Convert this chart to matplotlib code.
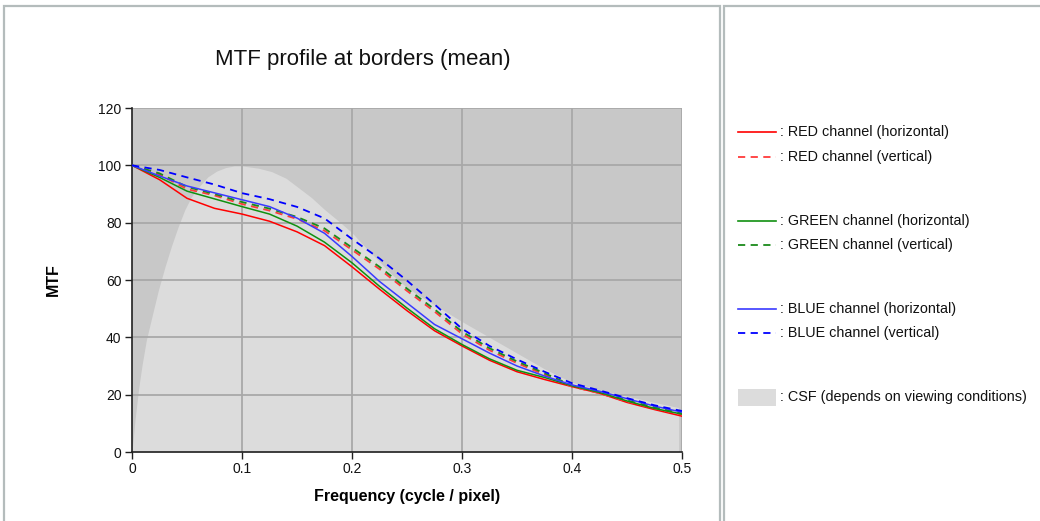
import matplotlib
matplotlib.use("Agg")
import matplotlib.pyplot as plt
from matplotlib.patches import Rectangle
from matplotlib.lines import Line2D

# ---- data -------------------------------------------------------------
freq = [0.0, 0.025, 0.05, 0.075, 0.1, 0.125, 0.15, 0.175, 0.2, 0.225, 0.25,
        0.275, 0.3, 0.325, 0.35, 0.375, 0.4, 0.425, 0.45, 0.475, 0.5]

red_h = [100, 95.0, 88.5, 85.0, 83.0, 80.5, 76.8, 72.0, 64.6, 56.8, 49.3,
         42.3, 37.0, 32.0, 28.0, 25.3, 22.8, 20.5, 17.3, 14.8, 12.5]
red_v = [100, 96.8, 91.7, 89.5, 86.5, 84.2, 81.3, 77.2, 70.5, 63.8, 56.2,
         49.0, 41.2, 35.5, 31.0, 27.0, 22.8, 20.5, 17.6, 15.2, 13.0]
green_h = [100, 95.8, 91.0, 88.3, 85.6, 83.0, 78.8, 73.2, 66.0, 57.8, 50.2,
           43.0, 37.5, 32.5, 28.5, 26.0, 23.1, 20.8, 17.8, 15.2, 13.2]
green_v = [100, 97.2, 92.5, 90.0, 87.2, 84.9, 82.0, 78.0, 71.3, 64.6, 57.0,
           49.8, 42.0, 36.2, 31.6, 27.5, 23.2, 20.9, 18.0, 15.6, 13.5]
blue_h = [100, 96.3, 92.8, 90.4, 88.0, 85.6, 81.6, 76.3, 68.2, 59.5, 52.0,
          44.5, 39.5, 34.5, 30.0, 26.5, 23.4, 21.2, 18.6, 16.0, 13.9]
blue_v = [100, 98.4, 95.8, 93.3, 90.3, 88.2, 85.5, 81.5, 74.3, 67.5, 59.8,
          51.5, 43.0, 37.0, 32.3, 28.0, 24.0, 21.5, 18.8, 16.3, 14.3]

csf_freq = [0.0, 0.0027, 0.006, 0.009, 0.013, 0.018, 0.024, 0.03, 0.036,
            0.042, 0.048, 0.054, 0.062, 0.069, 0.077, 0.085, 0.093, 0.1,
            0.115, 0.127, 0.14, 0.151, 0.163, 0.175, 0.188, 0.2, 0.212,
            0.224, 0.236, 0.248, 0.26, 0.27, 0.285, 0.3, 0.325, 0.35, 0.375,
            0.4, 0.425, 0.45, 0.475, 0.497]
csf = [0.0, 11.0, 22.0, 30.0, 39.0, 47.0, 56.5, 64.6, 72.0,
       78.6, 84.5, 89.0, 93.0, 96.0, 98.0, 99.2, 99.8, 99.8,
       99.0, 97.8, 95.5, 92.3, 88.8, 84.6, 80.5, 76.5, 71.5,
       66.8, 62.0, 58.0, 54.8, 52.5, 49.0, 45.5, 40.0, 34.5, 29.0,
       24.3, 21.7, 19.5, 17.3, 15.5]

series = [
    (red_h, "#ff0000", "-", ": RED channel (horizontal)"),
    (red_v, "#ff3a3a", "--", ": RED channel (vertical)"),
    (green_h, "#109010", "-", ": GREEN channel (horizontal)"),
    (green_v, "#1a8a1a", "--", ": GREEN channel (vertical)"),
    (blue_h, "#3a3aff", "-", ": BLUE channel (horizontal)"),
    (blue_v, "#0000ff", "--", ": BLUE channel (vertical)"),
]
csf_label = ": CSF (depends on viewing conditions)"

xticks = [0, 0.1, 0.2, 0.3, 0.4, 0.5]
xtick_labels = ["0", "0.1", "0.2", "0.3", "0.4", "0.5"]
yticks = [0, 20, 40, 60, 80, 100, 120]

# ---- figure -----------------------------------------------------------
W, H = 1040, 521
fig = plt.figure(figsize=(W / 100, H / 100), dpi=100)
fig.patch.set_facecolor("white")
plt.rcParams["font.family"] = ["Liberation Sans", "DejaVu Sans"]


def fx(px):
    return px / W


def fy(py):
    return 1 - py / H


# panel frames
border = "#b4bcbc"
fig.patches.append(Rectangle((fx(4), fy(530)), fx(716), (530 - 6) / H,
                             transform=fig.transFigure, fill=False,
                             edgecolor=border, lw=1.6))
fig.patches.append(Rectangle((fx(724), fy(530)), fx(330), (530 - 6) / H,
                             transform=fig.transFigure, fill=False,
                             edgecolor=border, lw=1.6))

ax = fig.add_axes([fx(132), fy(452), fx(682 - 132), (452 - 108) / H])
ax.set_facecolor("#c8c8c8")
ax.set_xlim(0, 0.5)
ax.set_ylim(0, 120)

ax.fill_between(csf_freq, 0, csf, color="#dcdcdc", lw=0, zorder=1)

for yv in yticks[1:]:
    ax.axhline(yv, color="#a8a8a8", lw=1.3, zorder=2)
for xv in xticks[1:]:
    ax.axvline(xv, color="#a8a8a8", lw=1.3, zorder=2)

for vals, col, ls, lab in series:
    if ls == "--":
        ax.plot(freq, vals, color=col, lw=1.3, dashes=(4, 3), zorder=3)
    else:
        ax.plot(freq, vals, color=col, lw=1.1, zorder=3)

for s in ("top", "right"):
    ax.spines[s].set_visible(False)
for s in ("left", "bottom"):
    ax.spines[s].set_color("#202020")
    ax.spines[s].set_linewidth(1.2)

ax.set_xticks(xticks)
ax.set_xticklabels(xtick_labels)
ax.set_yticks(yticks)
ax.tick_params(axis="both", direction="out", length=5, width=1.0,
               color="#202020", labelsize=10, labelcolor="#111111", pad=2.5)

ax.set_xlabel("Frequency (cycle / pixel)", fontsize=11.5, fontweight="bold",
              labelpad=9)
ax.set_ylabel("MTF", fontsize=11.5, fontweight="bold", labelpad=27)

fig.text(fx(363), fy(60), "MTF profile at borders (mean)", fontsize=16,
         ha="center", va="center", color="#111111")

# ---- key in the right panel ---------------------------------------------
rows_y = [132, 157, 221, 245, 309, 333]
for (vals, col, ls, lab), py in zip(series, rows_y):
    if ls == "--":
        fig.lines.append(Line2D([fx(738), fx(776)], [fy(py), fy(py)],
                                transform=fig.transFigure, color=col, lw=1.3,
                                dashes=(4, 3)))
    else:
        fig.lines.append(Line2D([fx(738), fx(776)], [fy(py), fy(py)],
                                transform=fig.transFigure, color=col, lw=1.2))
    fig.text(fx(780), fy(py), lab, fontsize=10.4, ha="left", va="center",
             color="#111111")

fig.patches.append(Rectangle((fx(738), fy(406)), fx(38), 17 / H,
                             transform=fig.transFigure, facecolor="#dcdcdc",
                             edgecolor="none"))
fig.text(fx(780), fy(397), csf_label, fontsize=10.4, ha="left", va="center",
         color="#111111")

fig.savefig("out.png", dpi=100, facecolor="white")
